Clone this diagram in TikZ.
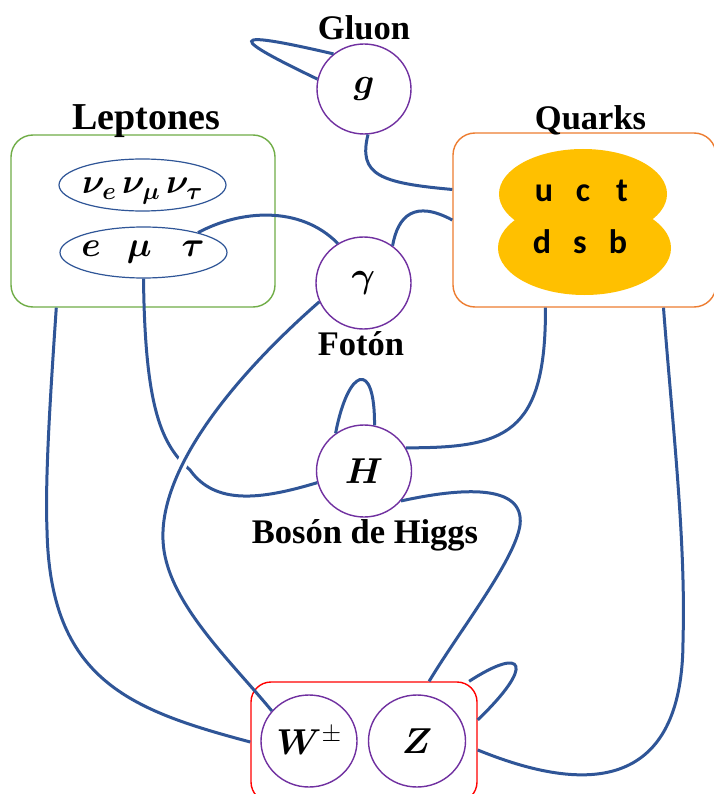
\RequirePackage{fix-cm}
\documentclass[tikz,border=0pt]{standalone}
\usepackage{bm}
\usepackage{fontspec}
\newfontfamily\tnr{Liberation Serif}
\newfontfamily\calib{Carlito}
\usetikzlibrary{shapes.geometric}
\definecolor{connc}{HTML}{2F5597}
\definecolor{circc}{HTML}{7030A0}
\definecolor{lepg}{HTML}{70AD47}
\definecolor{qor}{HTML}{ED7D31}
\definecolor{qy}{HTML}{FFC000}
\definecolor{redb}{HTML}{FF0000}
\begin{document}
\begin{tikzpicture}[x=1pt,y=1pt,
  particle/.style={ellipse,draw=circc,line width=1.4pt,inner sep=0pt,minimum width=95pt,minimum height=92pt,font=\fontsize{36}{40}\selectfont},
  group/.style={rectangle,rounded corners=22pt,line width=1.4pt,inner sep=0pt},
  lepell/.style={ellipse,draw=connc,line width=1.2pt,inner sep=0pt,minimum width=167pt,minimum height=52pt},
  conn/.style={draw=connc,line width=3pt},
  lab/.style={anchor=base,inner sep=0pt,font=\tnr\bfseries\fontsize{34.5}{40}\selectfont},
  qlet/.style={anchor=base,inner sep=0pt,font=\calib\bfseries\fontsize{34}{40}\selectfont},
  ltxt/.style={anchor=base,inner sep=0pt,font=\fontsize{35}{40}\selectfont},
  ]
\useasboundingbox (0,0) rectangle (713,-794);
\fill[white] (0,0) rectangle (713,-794);

% group boxes
\node[group,draw=lepg,minimum width=264pt,minimum height=172pt] (lep) at (143,-221) {};
\node[group,draw=qor,minimum width=263pt,minimum height=174pt] (q) at (584.5,-220) {};
\node[group,draw=redb,minimum width=226pt,minimum height=120pt,rounded corners=20pt] (wb) at (364,-742) {};

% quark blob
\node[ellipse,fill=qy,inner sep=0pt,minimum width=168pt,minimum height=90pt] (qtop) at (583,-194) {};
\node[ellipse,fill=qy,inner sep=0pt,minimum width=173pt,minimum height=94pt] (qbot) at (584.5,-248) {};
\node[qlet] (qu) at (544,-201.7) {u};
\node[qlet] (qc) at (583,-201.7) {c};
\node[qlet] (qt) at (622,-201.7) {t};
\node[qlet] (qd) at (542,-253) {d};
\node[qlet] (qs) at (580,-253) {s};
\node[qlet] (qb) at (618,-253) {b};

% lepton ellipses
\node[lepell] (nu) at (142.5,-185) {};
\node[lepell,minimum height=51pt] (l) at (143.5,-252.5) {};
\node[ltxt] (nutext) at (142.5,-194) {$\bm{\nu_e\,\nu_\mu\,\nu_\tau}$};
\node[ltxt] (ltext) at (143,-256.7) {$\bm{e}\hspace{26pt}\bm{\mu}\hspace{30pt}\bm{\tau}$};

% particles
\node[particle,minimum width=94pt,minimum height=90pt] (g) at (364,-89) {$\bm{g}$};
\node[particle] (gam) at (363.5,-283) {$\bm{\gamma}$};
\node[particle] (H) at (364,-471) {$\bm{H}$};
\node[particle,minimum width=96pt] (W) at (309,-741) {$\bm{W}^{\pm}$};
\node[particle,minimum width=97pt] (Z) at (417,-741) {$\bm{Z}$};

% labels
\node[lab] (lg) at (364,-40) {Gluon};
\node[lab,font=\tnr\bfseries\fontsize{38}{40}\selectfont] (llep) at (146,-130) {Leptones};
\node[lab] (lq) at (590.5,-130) {Quarks};
\node[lab] (lgam) at (361,-355) {Fotón};
\node[lab] (lH) at (365,-543) {Bosón de Higgs};

% connectors
% gluon self loop
\draw[conn] (g.131) .. controls (222,-28) and (232,-38) .. (g.168);
% gluon - quarks
\draw[conn] (g.275) .. controls (358,-175) and (380,-183) .. (q.167);
% photon - quarks
\draw[conn] (gam.52) .. controls (398,-215) and (415,-200) .. (q.west);
% leptons - photon
\draw[conn] (l.20) .. controls (240,-210) and (300,-205) .. (gam.123);
% leptons - Higgs
\draw[conn] (l.south) .. controls (145,-410) and (162,-445) .. (190,-470)
   .. controls (215,-505) and (260,-500) .. (H.194);
% photon - W (hops over leptons - Higgs)
\draw[conn,preaction={draw=white,line width=11pt,shorten <=40pt,shorten >=40pt}]
   (gam.203) .. controls (230,-380) and (160,-470) .. (163,-540)
   .. controls (165,-600) and (230,-660) .. (W.141);
% leptons box - W/Z box
\draw[conn] (lep.225) .. controls (50,-400) and (45,-480) .. (47,-530)
   .. controls (50,-680) and (130,-710) .. (wb.west);
% Higgs self loop
\draw[conn] (H.127) .. controls (348,-368) and (375,-358) .. (H.77);
% quarks - Higgs
\draw[conn] (q.246) .. controls (546,-435) and (505,-448) .. (H.29);
% Higgs - W/Z box
\draw[conn] (H.321) .. controls (460,-488) and (525,-483) .. (520,-525)
   .. controls (515,-560) and (460,-630) .. (wb.43);
% W/Z box self loop
\draw[conn] (wb.30) .. controls (525,-645) and (535,-665) .. (wb.11);
% quarks - W/Z box
\draw[conn] (q.312) .. controls (672,-420) and (686,-540) .. (683,-640)
   .. controls (683,-780) and (600,-800) .. (wb.356);
\end{tikzpicture}
\end{document}
